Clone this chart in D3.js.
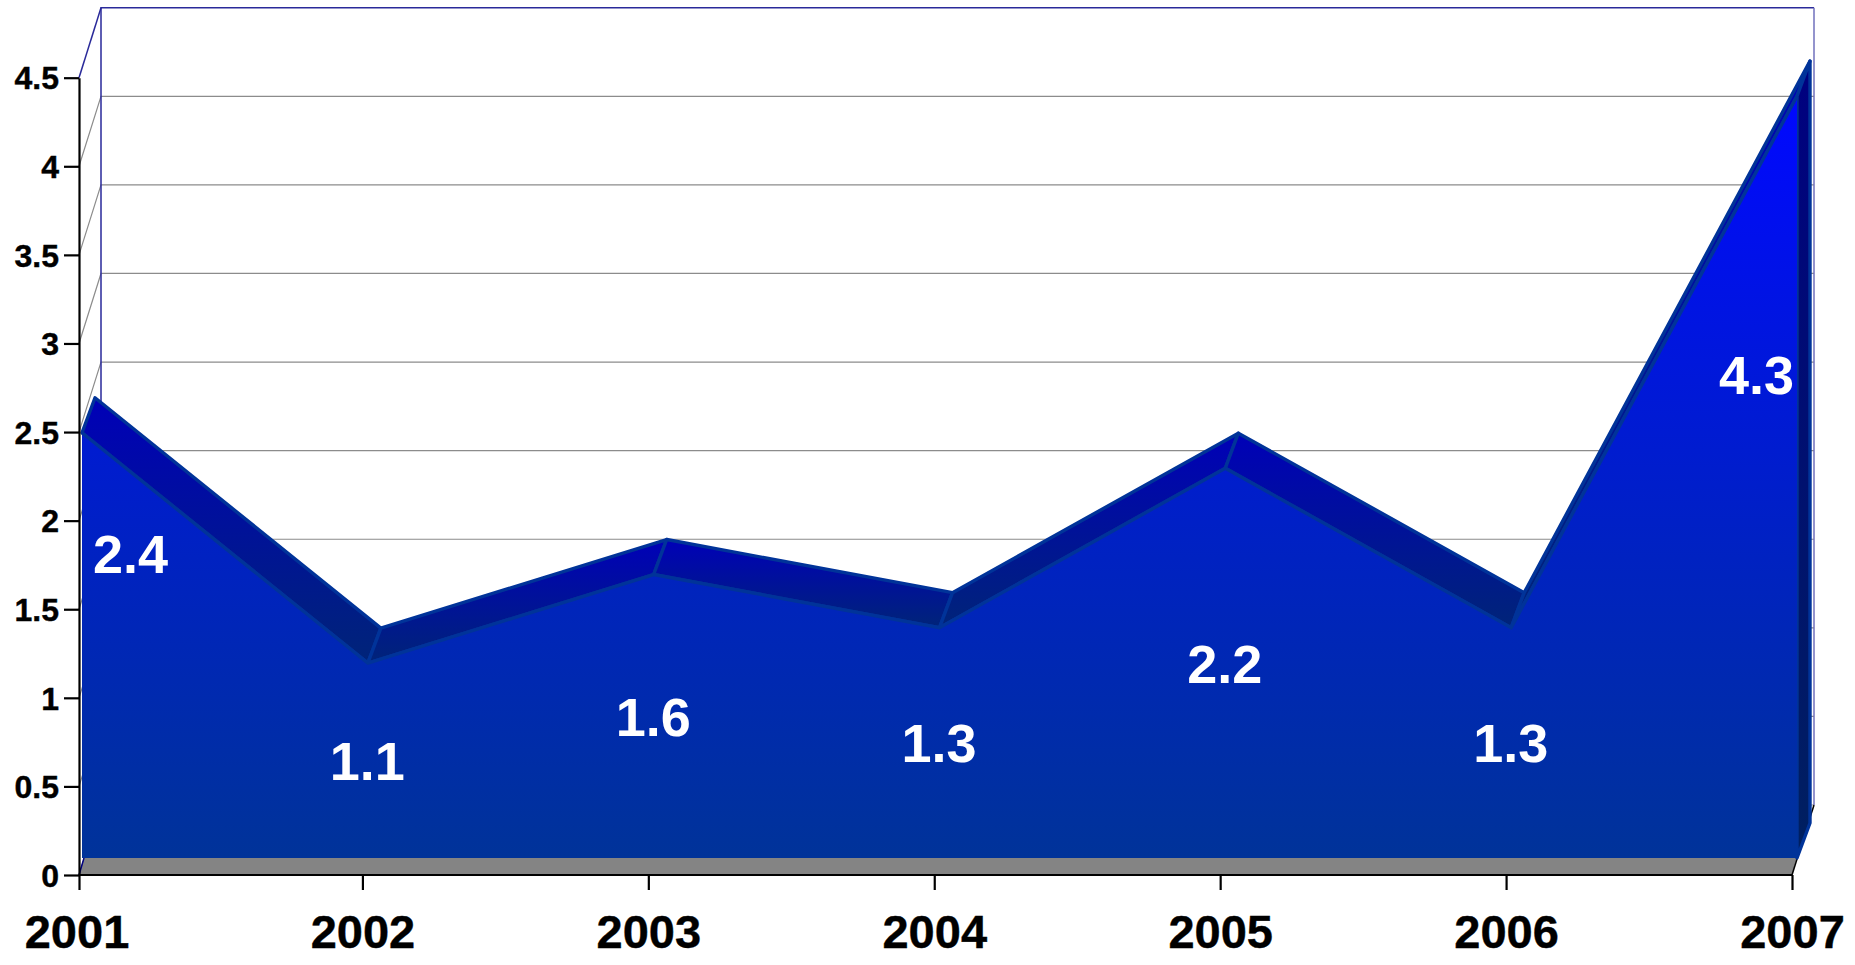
<!DOCTYPE html>
<html><head><meta charset="utf-8">
<script src="https://cdn.jsdelivr.net/npm/d3@7/dist/d3.min.js"></script>
<style>html,body{margin:0;background:#fff}svg{display:block}text{font-family:"Liberation Sans",Arial,sans-serif;font-weight:700}</style>
</head><body><svg id="c" width="1855" height="965"></svg>
<script>
const years=[2001,2002,2003,2004,2005,2006,2007];
const values=[2.4,1.1,1.6,1.3,2.2,1.3,4.3];
const yTicks=[0,0.5,1,1.5,2,2.5,3,3.5,4,4.5];
const labelHeights=[1.72,0.55,0.8,0.65,1.1,0.65,2.73];
const labelAnchors=["start","middle","middle","middle","middle","middle","end"];

const svg=d3.select("#c");
const plotLeft=79, plotRight=1792;
const xTick=d3.scaleLinear().domain([2001,2007]).range([76.5,plotRight]);
const fx=d3.scaleLinear().domain([2001,2007]).range([82,1797]);
const bx=d3.scaleLinear().domain([2001,2007]).range([95,1810]);
const y=d3.scaleLinear().domain([0,4.5]).range([875,77.7]);
const wall={dx:22,dy:-70}, front={dy:-17}, back={dy:-52};
const fy=v=>y(v)+front.dy, by=v=>y(v)+back.dy;
const line=d3.line();

const defs=svg.append("defs");
function grad(id,units,stops,coords){
  const g=defs.append("linearGradient").attr("id",id).attr("gradientUnits",units);
  Object.entries(coords).forEach(([k,v])=>g.attr(k,v));
  stops.forEach(([o,c])=>g.append("stop").attr("offset",o).attr("stop-color",c));
}
grad("gArea","userSpaceOnUse",[[0,"#0008ff"],[1,"#003399"]],{x1:0,x2:0,y1:fy(4.3),y2:fy(0)});
grad("gFacet","objectBoundingBox",[[0,"#0000b8"],[1,"#002478"]],{x1:0,x2:0,y1:0,y2:1});
grad("gWall","objectBoundingBox",[[0,"#000080"],[1,"#002060"]],{x1:0,x2:0,y1:0,y2:1});

// back-wall grid and its side returns
const grid=svg.append("g").attr("stroke","#8c8c8c").attr("stroke-width",1.2).attr("fill","none");
yTicks.slice(0,-1).forEach(t=>{
  grid.append("path").attr("d",line([[plotLeft,y(t)],[plotLeft+wall.dx,y(t)+wall.dy],[plotRight+wall.dx,y(t)+wall.dy]]));
});
// wall frame
const frame=svg.append("g").attr("fill","none").attr("stroke","#2a2a9a");
frame.append("path").attr("stroke-width",1.5).attr("d",line([[plotLeft,y(4.5)],[plotLeft+wall.dx,y(4.5)+wall.dy]]));
frame.append("path").attr("stroke-width",1.5).attr("d",line([[plotLeft+wall.dx,y(0)+wall.dy],[plotLeft+wall.dx,y(4.5)+wall.dy],[plotRight+wall.dx,y(4.5)+wall.dy]]));
frame.append("path").attr("stroke-width",1.5).attr("stroke","#7070bc").attr("d",line([[plotRight+wall.dx,y(4.5)+wall.dy],[plotRight+wall.dx,y(0)+wall.dy]]));

// floor
svg.append("path").attr("fill","#848484")
  .attr("d",line([[plotLeft,y(0)],[plotLeft+5,fy(0)],[fx(2007),fy(0)],[plotRight,y(0)]])+"Z");
svg.append("path").attr("stroke","#000080").attr("stroke-width",1.5).attr("d",line([[plotLeft,y(0)],[plotLeft+5,fy(0)]]));
svg.append("path").attr("stroke","#000").attr("stroke-width",1.5).attr("fill","none")
  .attr("d",line([[plotRight,y(0)],[plotRight+wall.dx,y(0)+wall.dy]]));

// top facets of the 3D area
const pairs=d3.pairs(d3.zip(years,values));
svg.append("g").selectAll("path").data(pairs).join("path")
  .attr("d",([a,b])=>line([[fx(a[0]),fy(a[1])],[bx(a[0]),by(a[1])],[bx(b[0]),by(b[1])],[fx(b[0]),fy(b[1])]])+"Z")
  .attr("fill","url(#gFacet)").attr("stroke","#003399").attr("stroke-width",3.4).attr("stroke-linejoin","round");
// right wall
const last=years.length-1;
svg.append("path")
  .attr("d",line([[fx(years[last]),fy(values[last])],[bx(years[last]),by(values[last])],[bx(years[last]),by(0)],[fx(years[last]),fy(0)]])+"Z")
  .attr("fill","url(#gWall)").attr("stroke","#003399").attr("stroke-width",3.4).attr("stroke-linejoin","round");
// front face
const area=d3.area().x(d=>fx(d[0])).y0(fy(0)).y1(d=>fy(d[1]));
svg.append("path").datum(d3.zip(years,values)).attr("d",area).attr("fill","url(#gArea)");
svg.append("path").datum(d3.zip(years,values))
  .attr("d",d3.line().x(d=>fx(d[0])).y(d=>fy(d[1])))
  .attr("fill","none").attr("stroke","#003399").attr("stroke-width",3.4);

// axes
const axL=svg.append("g").attr("transform",`translate(${plotLeft},0)`)
  .call(d3.axisLeft(y).tickValues(yTicks).tickSize(15).tickSizeOuter(0).tickPadding(5).tickFormat(d=>String(d)));
axL.selectAll("text").attr("font-size",32).attr("fill","#000").attr("stroke","#000").attr("stroke-width",0.4).attr("y",1).style("font-family",'"Liberation Sans"').style("font-weight",700);
const axB=svg.append("g").attr("transform",`translate(0,${y(0)})`)
  .call(d3.axisBottom(xTick).tickValues(years).tickSize(15).tickSizeOuter(0).tickFormat(d=>String(d)));
axB.select(".domain").attr("d",line([[plotLeft,0],[plotRight,0]]));
// the first tick sits on the vertical axis; its label stays centred on the scale position
axB.selectAll(".tick").filter(d=>d===years[0]).select("line").attr("x1",plotLeft-xTick(years[0])).attr("x2",plotLeft-xTick(years[0]));
axB.selectAll("text").attr("font-size",47).attr("fill","#000").attr("stroke","#000").attr("stroke-width",0.4).attr("y",0).attr("dy",73).style("font-family",'"Liberation Sans"').style("font-weight",700);
[axL,axB].forEach(a=>{a.selectAll("line,path").attr("stroke","#000").attr("stroke-width",2.2)});

// data labels
svg.append("g").selectAll("text").data(values).join("text")
  .attr("x",(d,i)=>fx(years[i])+(labelAnchors[i]==="start"?11:labelAnchors[i]==="end"?-3:-0.5))
  .attr("y",(d,i)=>fy(labelHeights[i]))
  .attr("dy","0.36em")
  .attr("text-anchor",(d,i)=>labelAnchors[i])
  .attr("font-size",54).attr("fill","#fff")
  .text(d=>d.toFixed(1));
</script></body></html>
